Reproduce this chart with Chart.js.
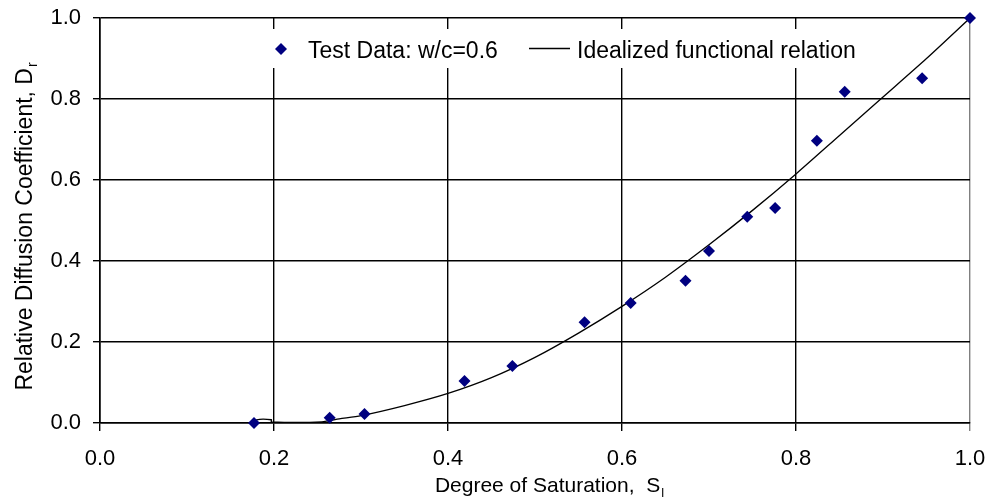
<!DOCTYPE html>
<html>
<head>
<meta charset="utf-8">
<script src="https://cdn.jsdelivr.net/npm/chart.js@4.4.1/dist/chart.umd.min.js"></script>
<style>
  html, body { margin: 0; padding: 0; background: #fff; }
  #wrap { width: 994px; height: 501px; position: relative; }
</style>
</head>
<body>
<div id="wrap"><canvas id="chart"></canvas></div>
<script>
// test data
const testS = [0.177, 0.264, 0.304, 0.419, 0.474, 0.557, 0.610, 0.673, 0.700, 0.744, 0.776, 0.824, 0.856, 0.945, 1.0];
const testD = [0.0, 0.013, 0.022, 0.104, 0.141, 0.249, 0.296, 0.351, 0.425, 0.509, 0.531, 0.697, 0.818, 0.851, 1.0];

// idealized curve
const curveS = [0, 0.18, 0.18, 0.197, 0.197, 0.255, 0.275, 0.30, 0.35, 0.40, 0.45, 0.50, 0.55, 0.60, 0.65, 0.70, 0.75, 0.80, 0.85, 0.90, 0.95, 1.0];
const curveD = [0, 0, 0.008, 0.008, 0.003, 0.003, 0.010, 0.018, 0.043, 0.073, 0.112, 0.162, 0.222, 0.288, 0.36, 0.44, 0.525, 0.615, 0.71, 0.805, 0.90, 1.0];

const xTicks = [0, 0.2, 0.4, 0.6, 0.8, 1.0];
const yTicks = [0, 0.2, 0.4, 0.6, 0.8, 1.0];

const legendLabels = ['Test Data: w/c=0.6', 'Idealized functional relation'];
const xTitle = ['Degree of Saturation,  S', 'l'];
const yTitle = ['Relative Diffusion Coefficient, D', 'r'];

const FONT = '"Liberation Sans", Arial, sans-serif';
const NAVY = '#000080';

const toPts = (xs, ys) => xs.map((x, i) => ({ x: x, y: ys[i] }));

// text with a subscript, centred on 0
function subText(ctx, main, sub, size) {
  ctx.font = size + 'px ' + FONT;
  const wm = ctx.measureText(main).width;
  ctx.font = Math.round(size * 0.62) + 'px ' + FONT;
  const ws = ctx.measureText(sub).width;
  const start = -(wm + ws) / 2;
  ctx.textAlign = 'left';
  ctx.textBaseline = 'alphabetic';
  ctx.font = size + 'px ' + FONT;
  ctx.fillText(main, start, 0);
  ctx.font = Math.round(size * 0.62) + 'px ' + FONT;
  ctx.fillText(sub, start + wm + 1, size * 0.22);
}

const decor = {
  id: 'decor',
  afterDraw(chart) {
    const ctx = chart.ctx;
    ctx.save();
    ctx.fillStyle = '#000';

    // axis titles
    ctx.save();
    ctx.translate(549, 492);
    subText(ctx, xTitle[0], xTitle[1], 21);
    ctx.restore();

    ctx.save();
    ctx.translate(32, 227);
    ctx.rotate(-Math.PI / 2);
    subText(ctx, yTitle[0], yTitle[1], 23);
    ctx.restore();

    // legend inside the plot
    ctx.fillStyle = '#fff';
    ctx.fillRect(264, 29, 600, 39);

    ctx.fillStyle = NAVY;
    ctx.beginPath();
    ctx.moveTo(275, 49);
    ctx.lineTo(281, 43);
    ctx.lineTo(287, 49);
    ctx.lineTo(281, 55);
    ctx.closePath();
    ctx.fill();

    ctx.strokeStyle = '#000';
    ctx.lineWidth = 1.3;
    ctx.beginPath();
    ctx.moveTo(529, 48.5);
    ctx.lineTo(570, 48.5);
    ctx.stroke();

    ctx.fillStyle = '#000';
    ctx.font = '23px ' + FONT;
    ctx.textAlign = 'left';
    ctx.textBaseline = 'alphabetic';
    ctx.fillText(legendLabels[0], 308, 58);
    ctx.fillText(legendLabels[1], 577, 58);
    ctx.restore();
  }
};

new Chart(document.getElementById('chart'), {
  type: 'scatter',
  data: {
    datasets: [
      {
        label: legendLabels[0],
        data: toPts(testS, testD),
        pointStyle: 'rectRot',
        pointRadius: 6,
        pointBorderWidth: 0,
        backgroundColor: NAVY,
        borderColor: NAVY,
        clip: false
      },
      {
        type: 'line',
        label: legendLabels[1],
        data: toPts(curveS, curveD),
        borderColor: '#000',
        borderWidth: 1.3,
        pointRadius: 0,
        tension: 0.25,
        fill: false
      }
    ]
  },
  plugins: [decor],
  options: {
    responsive: true,
    maintainAspectRatio: false,
    animation: false,
    layout: { padding: { top: 18, right: 24, left: 0, bottom: 0 } },
    plugins: {
      legend: { display: false },
      tooltip: { enabled: false }
    },
    scales: {
      x: {
        type: 'linear',
        min: 0,
        max: 1,
        afterFit: (s) => { s.height = 78; s.paddingLeft = 0; s.paddingRight = 0; },
        afterBuildTicks: (s) => { s.ticks = xTicks.map(v => ({ value: v })); },
        ticks: {
          color: '#000',
          font: { family: FONT, size: 22 },
          padding: 15,
          maxRotation: 0,
          callback: (v) => Number(v).toFixed(1)
        },
        grid: {
          color: (c) => (c.tick && c.tick.value === 1 ? '#808080' : '#000'),
          lineWidth: 1.4,
          tickLength: 8
        },
        border: { color: '#000', width: 1.6 }
      },
      y: {
        type: 'linear',
        min: 0,
        max: 1,
        afterFit: (s) => { s.width = 100; s.paddingTop = 0; s.paddingBottom = 0; },
        afterBuildTicks: (s) => { s.ticks = yTicks.map(v => ({ value: v })); },
        ticks: {
          color: '#000',
          font: { family: FONT, size: 22 },
          padding: 12,
          callback: (v) => Number(v).toFixed(1)
        },
        grid: {
          color: '#000',
          lineWidth: 1.4,
          tickLength: 7
        },
        border: { color: '#000', width: 1.6 }
      }
    }
  }
});
</script>
</body>
</html>
